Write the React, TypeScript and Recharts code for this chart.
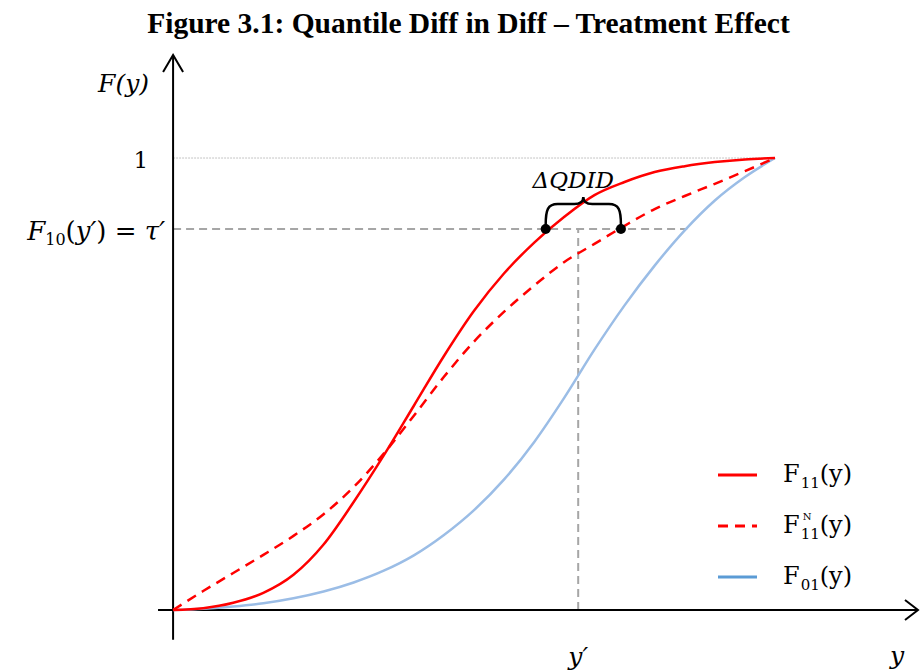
import { LineChart, Line, XAxis, YAxis, ReferenceLine, ReferenceDot, Legend } from 'recharts';

// outcome grid (y), 100 = the point where every cdf reaches 1
const yGrid = [0, 5, 10, 15, 20, 25, 30, 35, 40, 45, 50, 55, 60, 65, 70, 75, 80, 85, 90, 95, 100];
// treated group, post period
const f11 = [0, 0.004, 0.016, 0.038, 0.078, 0.145, 0.239, 0.342, 0.452, 0.562, 0.662, 0.745, 0.813, 0.87, 0.918, 0.947, 0.969, 0.982, 0.991, 0.997, 1];
// counterfactual for the treated group
const f11N = [0, 0.042, 0.082, 0.122, 0.164, 0.212, 0.272, 0.346, 0.43, 0.516, 0.594, 0.66, 0.718, 0.77, 0.81, 0.85, 0.887, 0.916, 0.943, 0.971, 1];
// control group, post period
const f01 = [0, 0.003, 0.008, 0.015, 0.026, 0.041, 0.061, 0.087, 0.121, 0.166, 0.221, 0.289, 0.372, 0.47, 0.576, 0.674, 0.762, 0.84, 0.906, 0.958, 1];

const tauPrime = 0.843; // F10(y')
const yPrime = 67.3;
const qTreated = 61.9; // F11^-1(tau')
const qCounter = 74.4; // F11N^-1(tau')
const qControl = 85.4; // F01^-1(tau')

const chartData = yGrid.map((y, i) => ({ y, f11: f11[i], f11N: f11N[i], f01: f01[i] }));

const serif = '"DejaVu Serif", "Liberation Serif", serif';
const grey = '#a6a6a6';

const series = [
  { key: 'f11', sub: '11', sup: '', color: '#ff0000', legend: '#ff0000', dash: undefined },
  { key: 'f11N', sub: '11', sup: 'N', color: '#ff0000', legend: '#ff0000', dash: '10 7' },
  { key: 'f01', sub: '01', sup: '', color: '#9bbde6', legend: '#5b9bd5', dash: undefined },
];

const xAxisShape = (p: any) => (
  <g>
    <line x1={p.x1} y1={p.y1} x2={p.x2} y2={p.y2} stroke="#000" strokeWidth={2} />
    <polyline points={`${p.x2 - 13},${p.y2 - 10} ${p.x2},${p.y2} ${p.x2 - 13},${p.y2 + 10}`} fill="none" stroke="#000" strokeWidth={2} />
    <text x={p.x2 - 21} y={p.y2 + 54} textAnchor="middle" fontFamily={serif} fontStyle="italic" fontSize={25}>y</text>
  </g>
);

const yAxisShape = (p: any) => (
  <g>
    <line x1={p.x1} y1={p.y1} x2={p.x2} y2={p.y2} stroke="#000" strokeWidth={2} />
    <polyline points={`${p.x2 - 10},${p.y2 + 17} ${p.x2},${p.y2} ${p.x2 + 10},${p.y2 + 17}`} fill="none" stroke="#000" strokeWidth={2} />
    <text x={p.x2 - 24} y={p.y2 + 37} textAnchor="end" fontFamily={serif} fontStyle="italic" fontSize={25}>F(y)</text>
  </g>
);

const oneShape = (p: any) => (
  <g>
    <line x1={p.x1} y1={p.y1} x2={p.x2} y2={p.y2} stroke="#c4c4c4" strokeWidth={1} strokeDasharray="2 1" />
    <text x={p.x1 - 25} y={p.y1 + 10} textAnchor="end" fontFamily={serif} fontSize={23}>1</text>
  </g>
);

const tauShape = (p: any) => (
  <g>
    <line x1={p.x1} y1={p.y1} x2={p.x2} y2={p.y2} stroke={grey} strokeWidth={2} strokeDasharray="8 5" />
    <text x={p.x1 - 8} y={p.y1 + 11} textAnchor="end" fontFamily={serif} fontSize={26}>
      <tspan fontStyle="italic">F</tspan>
      <tspan fontSize={16} dy={5}>10</tspan>
      <tspan dy={-5}>(</tspan>
      <tspan fontStyle="italic">y′</tspan>
      <tspan>) = </tspan>
      <tspan fontStyle="italic">τ′</tspan>
    </text>
  </g>
);

const yPrimeShape = (p: any) => (
  <g>
    <line x1={p.x1} y1={p.y1} x2={p.x2} y2={p.y2} stroke={grey} strokeWidth={2} strokeDasharray="8 5" />
    <text x={p.x1} y={Math.max(p.y1, p.y2) + 55} textAnchor="middle" fontFamily={serif} fontStyle="italic" fontSize={25}>y′</text>
  </g>
);

// curly brace over the gap between the two quantiles
const braceShape = (p: any) => {
  const a = Math.min(p.x1, p.x2);
  const b = Math.max(p.x1, p.x2);
  const m = (a + b) / 2;
  const y0 = p.y1 - 4;
  const top = p.y1 - 25;
  const d = `M${a},${y0} C${a},${top + 6} ${a + 2},${top} ${a + 12},${top} L${m - 9},${top} C${m - 3},${top} ${m},${top - 2} ${m},${top - 7} C${m},${top - 2} ${m + 3},${top} ${m + 9},${top} L${b - 12},${top} C${b - 2},${top} ${b},${top + 6} ${b},${y0}`;
  return (
    <g>
      <path d={d} fill="none" stroke="#000" strokeWidth={2.5} />
      <text x={m - 10} y={p.y1 - 41} textAnchor="middle" fontFamily={serif} fontStyle="italic" fontSize={23}>ΔQDID</text>
    </g>
  );
};

const renderLegend = () => (
  <div>
    {series.map((s) => (
      <div key={s.key} style={{ display: 'flex', alignItems: 'center', height: 51 }}>
        <svg width={40} height={8}>
          <line x1={0} y1={4} x2={39} y2={4} stroke={s.legend} strokeWidth={3} strokeDasharray={s.dash} />
        </svg>
        <span style={{ marginLeft: 25, fontFamily: serif, fontSize: 24, lineHeight: '30px', whiteSpace: 'nowrap' }}>
          F
          <span style={{ position: 'relative', display: 'inline-block', fontSize: 15, lineHeight: '14px', verticalAlign: -6, marginLeft: 1 }}>
            {s.sub}
            {s.sup && (
              <span style={{ position: 'absolute', left: 2, top: -15, fontSize: 10, lineHeight: '10px' }}>{s.sup}</span>
            )}
          </span>
          (y)
        </span>
      </div>
    ))}
  </div>
);

export default function App() {
  return (
    <div style={{ position: 'absolute', left: 0, top: 0, width: 921, height: 672, background: '#fff' }}>
      <div style={{ position: 'absolute', left: 8, top: 6, width: 921, textAlign: 'center', fontFamily: '"Liberation Serif", serif', fontWeight: 'bold', fontSize: 29.5, lineHeight: '34px', whiteSpace: 'nowrap' }}>
        Figure 3.1: Quantile Diff in Diff – Treatment Effect
      </div>
      <LineChart width={921} height={672} data={chartData} margin={{ top: 40.5, right: 1.5, bottom: 25.8, left: 149 }}>
        <XAxis type="number" dataKey="y" domain={[-4, 124]} allowDataOverflow hide />
        <YAxis type="number" domain={[-0.08, 1.26]} allowDataOverflow hide />
        <ReferenceLine segment={[{ x: 0, y: 1 }, { x: 100, y: 1 }]} shape={oneShape} />
        <ReferenceLine segment={[{ x: 0, y: tauPrime }, { x: qControl, y: tauPrime }]} shape={tauShape} />
        <ReferenceLine segment={[{ x: yPrime, y: 0 }, { x: yPrime, y: tauPrime }]} shape={yPrimeShape} />
        <ReferenceLine segment={[{ x: -2.5, y: 0 }, { x: 123.75, y: 0 }]} shape={xAxisShape} />
        <ReferenceLine segment={[{ x: 0, y: -0.066 }, { x: 0, y: 1.228 }]} shape={yAxisShape} />
        {series.slice().reverse().map((s) => (
          <Line key={s.key} type="monotone" dataKey={s.key} stroke={s.color} strokeWidth={2.5} strokeDasharray={s.dash} dot={false} isAnimationActive={false} />
        ))}
        <ReferenceLine segment={[{ x: qTreated, y: tauPrime }, { x: qCounter, y: tauPrime }]} shape={braceShape} />
        <ReferenceDot x={qTreated} y={tauPrime} r={5} fill="#000" stroke="none" />
        <ReferenceDot x={qCounter} y={tauPrime} r={5} fill="#000" stroke="none" />
        <Legend layout="vertical" align="center" verticalAlign="middle" content={renderLegend} wrapperStyle={{ left: 718, top: 449, width: 200 }} />
      </LineChart>
    </div>
  );
}
